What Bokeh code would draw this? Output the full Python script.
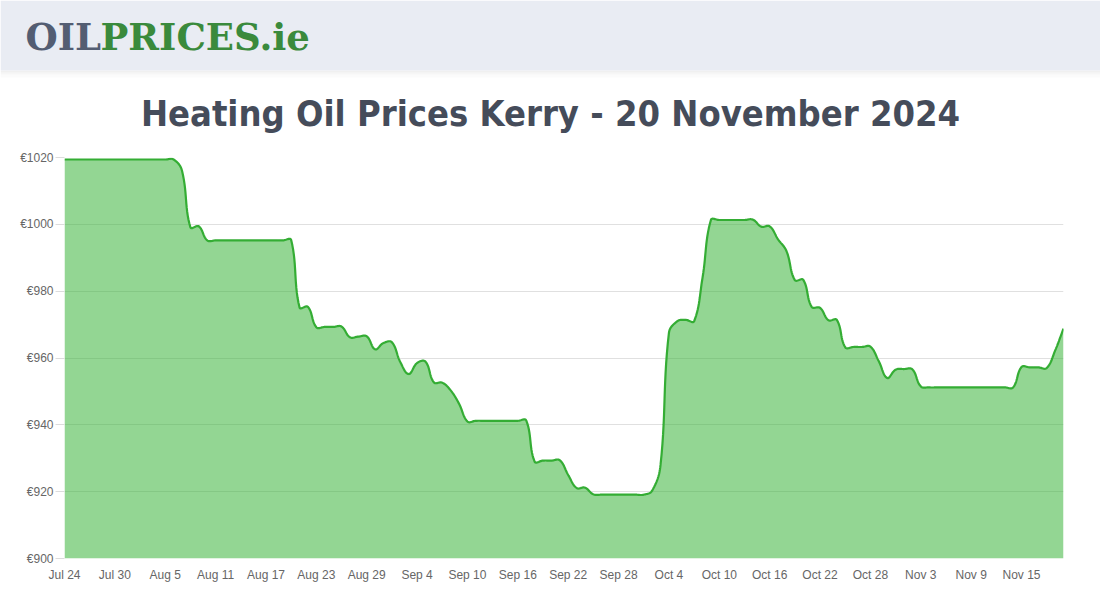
from math import hypot

from bokeh.core.properties import value
from bokeh.embed import file_html
from bokeh.layouts import column
from bokeh.models import ColumnDataSource, FixedTicker, PrintfTickFormatter, Range1d
from bokeh.plotting import figure
from bokeh.resources import INLINE

# ---------------- data ----------------
title_text = "Heating Oil Prices Kerry - 20 November 2024"
logo_dark = "OIL"
logo_green = "PRICES.ie"

# daily price (EUR), 24 Jul 2024 .. 20 Nov 2024
prices = [
    1019.4, 1019.4, 1019.4, 1019.4, 1019.4, 1019.4, 1019.4, 1019.4, 1019.4, 1019.4,
    1019.4, 1019.4, 1019.4, 1019.4, 1016.0, 999.1, 999.4, 995.2, 995.2, 995.2,
    995.2, 995.2, 995.2, 995.2, 995.2, 995.2, 995.2, 995.3, 975.1, 975.3,
    969.2, 969.3, 969.3, 969.4, 966.2, 966.4, 966.5, 962.6, 964.5, 964.7,
    958.8, 955.2, 958.5, 958.9, 952.7, 952.6, 950.3, 946.3, 941.0, 941.2,
    941.2, 941.2, 941.2, 941.2, 941.2, 941.3, 929.0, 929.3, 929.3, 929.4,
    925.0, 921.1, 921.2, 919.2, 919.1, 919.1, 919.1, 919.1, 919.1, 919.1,
    920.3, 928.0, 967.5, 971.0, 971.4, 971.0, 984.0, 1001.3, 1001.3, 1001.3,
    1001.3, 1001.3, 1001.4, 999.3, 999.4, 995.5, 992.0, 983.3, 983.4, 975.3,
    975.0, 971.3, 971.4, 963.2, 963.3, 963.3, 963.4, 959.0, 954.0, 956.5,
    956.7, 956.6, 951.5, 951.2, 951.2, 951.2, 951.2, 951.2, 951.2, 951.2,
    951.2, 951.2, 951.2, 951.2, 957.3, 957.2, 957.2, 957.0, 962.2, 968.8,
]

tick_labels = [
    "Jul 24", "Jul 30", "Aug 5", "Aug 11", "Aug 17", "Aug 23", "Aug 29",
    "Sep 4", "Sep 10", "Sep 16", "Sep 22", "Sep 28", "Oct 4", "Oct 10",
    "Oct 16", "Oct 22", "Oct 28", "Nov 3", "Nov 9", "Nov 15",
]
tick_step_days = 6
y_ticks = [900, 920, 940, 960, 980, 1000, 1020]
y_min, y_max = 900, 1020

days = list(range(len(prices)))
x_ticks = [i * tick_step_days for i in range(len(tick_labels))]

# ---------------- layout constants ----------------
W = 1100
HEADER_H = 140
MAIN_H = 600 - HEADER_H
B_LEFT, B_RIGHT, B_TOP, B_BOTTOM = 64, 37, 17, 42
FRAME_W = W - B_LEFT - B_RIGHT
FRAME_H = MAIN_H - B_TOP - B_BOTTOM


def smooth_line(xs, ys, sx, sy, lo, hi, tension=0.4, steps=14):
    """Chart.js-style cubic bezier (tension 0.4) through the data points,
    control points computed in screen space and capped to the chart area."""
    P = [(x * sx, y * sy) for x, y in zip(xs, ys)]
    n = len(P)
    cprev, cnext = [], []
    for i in range(n):
        prv = P[i - 1] if i > 0 else P[i]
        cur = P[i]
        nxt = P[i + 1] if i < n - 1 else P[i]
        d01 = hypot(cur[0] - prv[0], cur[1] - prv[1])
        d12 = hypot(nxt[0] - cur[0], nxt[1] - cur[1])
        tot = d01 + d12
        s01 = d01 / tot if tot else 0.0
        s12 = d12 / tot if tot else 0.0
        fa, fb = tension * s01, tension * s12
        dx, dy = nxt[0] - prv[0], nxt[1] - prv[1]
        a = (cur[0] - fa * dx, min(max(cur[1] - fa * dy, lo * sy), hi * sy))
        b = (cur[0] + fb * dx, min(max(cur[1] + fb * dy, lo * sy), hi * sy))
        cprev.append(a)
        cnext.append(b)
    ox, oy = [P[0][0] / sx], [P[0][1] / sy]
    for i in range(n - 1):
        p0, p1, p2, p3 = P[i], cnext[i], cprev[i + 1], P[i + 1]
        for k in range(1, steps + 1):
            t = k / steps
            u = 1 - t
            bx = u**3 * p0[0] + 3 * u * u * t * p1[0] + 3 * u * t * t * p2[0] + t**3 * p3[0]
            by = u**3 * p0[1] + 3 * u * u * t * p1[1] + 3 * u * t * t * p2[1] + t**3 * p3[1]
            ox.append(bx / sx)
            oy.append(by / sy)
    return ox, oy


# ---------------- header (logo band + title) ----------------
h = figure(
    width=W, height=HEADER_H,
    x_range=Range1d(0, W), y_range=Range1d(HEADER_H, 0),
    x_axis_type=None, y_axis_type=None,
    output_backend="svg", toolbar_location=None,
    min_border=0, min_border_left=0, min_border_right=0,
    min_border_top=0, min_border_bottom=0,
    outline_line_color=None,
)
h.frame_align = False
h.grid.visible = False
h.background_fill_color = "white"
h.border_fill_color = "white"

# shadow under the band
h.quad(left=[0, 0, 0], right=[W, W, W], top=[70, 72, 74], bottom=[72, 74, 77],
       fill_color="black", fill_alpha=[0.06, 0.035, 0.015], line_color=None)
h.quad(left=[0], right=[W], top=[0], bottom=[70], fill_color="#e9ecf3", line_color=None)

h.text(x=[25], y=[36], text=[logo_dark], text_font=value("DejaVu Serif"),
       text_font_style="bold", text_font_size="37px", text_color="#535d72",
       text_align="left", text_baseline="alphabetic")
h.text(x=[100], y=[36], text=[logo_green], text_font=value("DejaVu Serif"),
       text_font_style="bold", text_font_size="37px", text_color="#3a8a3c",
       text_align="left", text_baseline="alphabetic")

h.text(x=[550], y=[113], text=[title_text],
       text_font=value("DejaVu Sans Condensed, Roboto"),
       text_font_style="bold", text_font_size="36px", text_color="#454c5a",
       text_align="center", text_baseline="alphabetic")

# ---------------- main chart ----------------
x0, x1 = days[0], days[-1]
p = figure(
    width=W, height=MAIN_H,
    x_range=Range1d(x0, x1), y_range=Range1d(y_min, y_max),
    output_backend="svg", toolbar_location=None,
    min_border_left=B_LEFT, min_border_right=B_RIGHT,
    min_border_top=B_TOP, min_border_bottom=B_BOTTOM,
    outline_line_color=None,
)
p.frame_align = False
p.background_fill_color = "white"
p.border_fill_color = "white"

sx = FRAME_W / (x1 - x0)
sy = FRAME_H / (y_max - y_min)
cx, cy = smooth_line(days, prices, sx, sy, y_min, y_max)
src = ColumnDataSource(dict(x=cx, y=cy, base=[y_min] * len(cx)))

p.varea(x="x", y1="base", y2="y", source=src, fill_color="#37b437", fill_alpha=0.54)
p.line(x="x", y="y", source=src, line_color="#34ad34", line_width=2.2)

p.xgrid.grid_line_color = None
p.ygrid.ticker = FixedTicker(ticks=y_ticks)
p.ygrid.grid_line_color = "#e0e0e0"
p.ygrid.grid_line_width = 1

ya = p.yaxis[0]
ya.ticker = FixedTicker(ticks=y_ticks)
ya.formatter = PrintfTickFormatter(format="€%d")
ya.axis_line_color = None
ya.major_tick_in = 0
ya.major_tick_out = 9
ya.major_tick_line_color = "#dcdcdc"
ya.minor_tick_line_color = None
ya.major_label_standoff = 2
ya.major_label_text_font = "Liberation Sans"
ya.major_label_text_font_size = "12px"
ya.major_label_text_color = "#666666"

xa = p.xaxis[0]
xa.ticker = FixedTicker(ticks=x_ticks)
xa.major_label_overrides = {t: lab for t, lab in zip(x_ticks, tick_labels)}
xa.axis_line_color = None
xa.major_tick_in = 0
xa.major_tick_out = 0
xa.major_tick_line_color = None
xa.minor_tick_line_color = None
xa.major_label_standoff = 9
xa.major_label_text_font = "Liberation Sans"
xa.major_label_text_font_size = "12px"
xa.major_label_text_color = "#666666"

layout = column(h, p, spacing=0)
open("out.html", "w").write(file_html(layout, INLINE))
